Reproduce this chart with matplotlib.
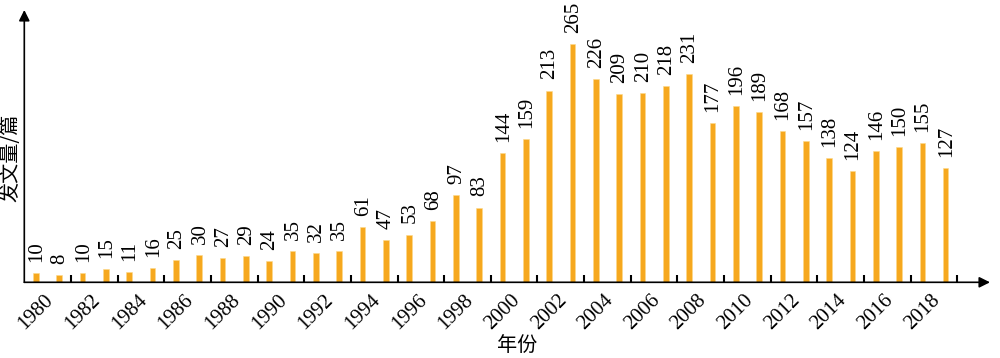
import matplotlib
matplotlib.use("Agg")
import matplotlib.pyplot as plt
import numpy as np

years = list(range(1980, 2020))
counts = [10, 8, 10, 15, 11, 16, 25, 30, 27, 29, 24, 35, 32, 35, 61, 47, 53, 68, 97, 83,
          144, 159, 213, 265, 226, 209, 210, 218, 231, 177, 196, 189, 168, 157, 138, 124,
          146, 150, 155, 127]
tick_labels = [str(y) for y in years[::2]]

plt.rcParams['font.family'] = ['Liberation Serif', 'Noto Sans CJK SC', 'DejaVu Sans']

fig = plt.figure(figsize=(10, 3.58), dpi=100)
ax = fig.add_axes([0.0243, 1 - 282.3 / 358, 0.9657, 272.3 / 358])

x = np.arange(len(years))
bar_color = '#F6A81E'
ax.bar(x, counts, width=0.24, color=bar_color, edgecolor='#FCD98A', linewidth=0.4)

for xi, v in zip(x, counts):
    ax.annotate(str(v), xy=(xi, v), xytext=(0.5, 8), textcoords='offset points',
                rotation=90, ha='center', va='bottom', fontsize=15,
                family='Liberation Serif')

ax.set_xlim(-0.5, 40.9)
ax.set_ylim(0, 302.5)

for s in ax.spines.values():
    s.set_visible(False)

# arrows for axes
ax.annotate('', xy=(1, 0), xytext=(0, 0), xycoords='axes fraction',
            arrowprops=dict(arrowstyle='-|>', color='black', lw=1.2, mutation_scale=16,
                            shrinkA=0, shrinkB=0))
ax.annotate('', xy=(0, 1), xytext=(0, 0), xycoords='axes fraction',
            arrowprops=dict(arrowstyle='-|>', color='black', lw=1.2, mutation_scale=16,
                            shrinkA=0, shrinkB=0))

# tick marks between category pairs
ax.set_xticks(np.arange(1.5, 40, 2))
ax.set_xticklabels([])
ax.tick_params(axis='x', which='major', direction='in', length=5, width=1.5, color='black')
ax.set_xticks(x[::2], minor=True)
ax.set_xticklabels(tick_labels, minor=True, rotation=45, ha='center', va='top',
                   fontsize=15, family='Liberation Serif')
ax.tick_params(axis='x', which='minor', length=0, pad=6)
ax.set_yticks([])

fig.text(0.011, 1 - 157.5 / 358, '发文量/篇', rotation=90, ha='center', va='center',
         fontsize=14.5, family=['Noto Sans CJK SC', 'DejaVu Sans'])
fig.text(0.517, 1 - 345 / 358, '年份', ha='center', va='center',
         fontsize=14.5, family=['Noto Sans CJK SC', 'DejaVu Sans'])

fig.savefig('out.png', dpi=100)
